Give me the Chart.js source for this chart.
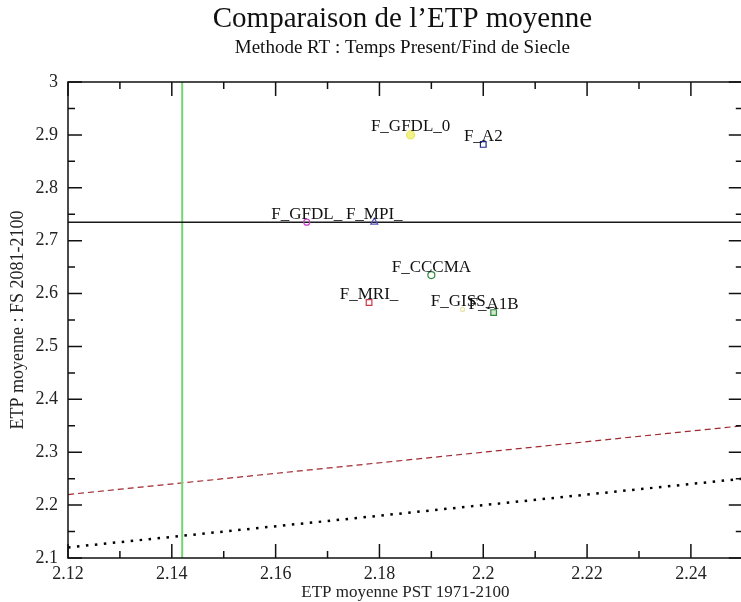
<!DOCTYPE html>
<html>
<head>
<meta charset="utf-8">
<script src="https://cdn.jsdelivr.net/npm/chart.js@4.4.0/dist/chart.umd.min.js"></script>
<style>
  html, body { margin: 0; padding: 0; overflow: hidden; background: #fff; }
</style>
</head>
<body>
<canvas id="etpChart" width="748" height="602"></canvas>
<script>
// modeles et ETP moyenne (PST 1971-2100 / FS 2081-2100)
const modelNames = ['F_GFDL_0', 'F_A2', 'F_GFDL_', 'F_MPI_', 'F_CCCMA', 'F_MRI_', 'F_GISS_', 'F_A1B'];
const etpPresent = [2.186, 2.200, 2.166, 2.179, 2.190, 2.178, 2.196, 2.202];
const etpFuture  = [2.900, 2.882, 2.735, 2.735, 2.635, 2.583, 2.570, 2.564];

// lignes de reference
const meanPresent = 2.142;
const meanFuture = 2.735;
const refX = [2.12, 2.25];
const refIdentity = [2.12, 2.25];   // y = x
const refPlus = [2.22, 2.35];       // y = x + 0.1

const xTickValues = [2.12, 2.14, 2.16, 2.18, 2.2, 2.22, 2.24];
const yTickValues = [2.1, 2.2, 2.3, 2.4, 2.5, 2.6, 2.7, 2.8, 2.9, 3];

const markerStyle = [
  { shape: 'circle',   color: '#e8e860', fill: '#f2f28a', r: 4 },
  { shape: 'rect',     color: '#1f2a88', fill: 'rgba(0,0,0,0)', r: 4 },
  { shape: 'circle',   color: '#cc44cc', fill: 'rgba(0,0,0,0)', r: 3 },
  { shape: 'triangle', color: '#5050b8', fill: 'rgba(0,0,0,0)', r: 4 },
  { shape: 'circle',   color: '#2f8a3a', fill: 'rgba(0,0,0,0)', r: 3.5 },
  { shape: 'rect',     color: '#c83a4a', fill: 'rgba(0,0,0,0)', r: 4 },
  { shape: 'circle',   color: '#e6e6a8', fill: 'rgba(0,0,0,0)', r: 2 },
  { shape: 'rect',     color: '#2f8a3a', fill: '#cfe8cf', r: 4 }
];

const SERIF = '"Liberation Serif", "DejaVu Serif", serif';

const pointSets = modelNames.map((name, i) => ({
  type: 'scatter',
  label: name,
  labelText: name,
  data: [{ x: etpPresent[i], y: etpFuture[i] }],
  pointStyle: markerStyle[i].shape,
  pointRadius: markerStyle[i].r,
  borderColor: markerStyle[i].color,
  backgroundColor: markerStyle[i].fill,
  pointBorderWidth: 1.2,
  order: 0
}));

const lineSets = [
  {
    label: 'y=x', type: 'line',
    data: refX.map((x, i) => ({ x: x, y: refIdentity[i] })),
    borderColor: '#000', borderWidth: 2.5, borderDash: [2.5, 6.5],
    pointRadius: 0, order: 5
  },
  {
    label: 'y=x+0.1', type: 'line',
    data: refX.map((x, i) => ({ x: x, y: refPlus[i] })),
    borderColor: '#a02a30', borderWidth: 1.2, borderDash: [6, 4],
    pointRadius: 0, order: 5
  },
  {
    label: 'moy FS', type: 'line',
    data: refX.map(x => ({ x: x, y: meanFuture })),
    borderColor: '#1a1a1a', borderWidth: 1.5,
    pointRadius: 0, order: 4
  },
  {
    label: 'moy PST', type: 'line',
    data: [{ x: meanPresent, y: 2.1 }, { x: meanPresent, y: 3 }],
    borderColor: '#6fd86f', borderWidth: 2,
    pointRadius: 0, order: 4
  }
];

// etiquettes des points
const pointLabels = {
  id: 'pointLabels',
  afterDatasetsDraw(chart) {
    const ctx = chart.ctx;
    ctx.save();
    ctx.font = '17px ' + SERIF;
    ctx.fillStyle = '#111';
    ctx.textAlign = 'center';
    ctx.textBaseline = 'middle';
    chart.data.datasets.forEach((ds, i) => {
      if (!ds.labelText) return;
      const pt = chart.getDatasetMeta(i).data[0];
      ctx.fillText(ds.labelText, pt.x, pt.y - 8);
    });
    ctx.restore();
  }
};

// cadre + graduations interieures sur les 4 cotes
const frameTicks = {
  id: 'frameTicks',
  afterDraw(chart) {
    const { ctx, chartArea: a, scales: { x, y } } = chart;
    ctx.save();
    ctx.strokeStyle = '#111';
    ctx.lineWidth = 1.5;
    ctx.strokeRect(a.left, a.top, a.right - a.left, a.bottom - a.top);

    const major = 14, minor = 7;
    const xv = x.ticks.map(t => t.value);
    const yv = y.ticks.map(t => t.value);
    const xMinor = [], yMinor = [];
    for (let i = 0; i < xv.length; i++) {
      const step = (xv[1] - xv[0]);
      const m = xv[i] + step / 2;
      if (m <= x.max + 1e-9) xMinor.push(m);
    }
    for (let i = 0; i < yv.length - 1; i++) yMinor.push((yv[i] + yv[i + 1]) / 2);

    ctx.beginPath();
    const vTick = (v, len) => {
      const px = x.getPixelForValue(v);
      ctx.moveTo(px, a.bottom); ctx.lineTo(px, a.bottom - len);
      ctx.moveTo(px, a.top); ctx.lineTo(px, a.top + len);
    };
    const hTick = (v, len) => {
      const py = y.getPixelForValue(v);
      ctx.moveTo(a.left, py); ctx.lineTo(a.left + len, py);
      ctx.moveTo(a.right, py); ctx.lineTo(a.right - len, py);
    };
    xv.forEach(v => vTick(v, major));
    xMinor.forEach(v => vTick(v, minor));
    yv.forEach(v => hTick(v, major));
    yMinor.forEach(v => hTick(v, minor));
    ctx.stroke();
    ctx.restore();
  }
};

// titre et sous-titre centres sur la zone de trace
const titles = {
  id: 'titles',
  afterDraw(chart) {
    const { ctx, chartArea: a } = chart;
    const cx = (a.left + a.right) / 2 - 3;
    ctx.save();
    ctx.fillStyle = '#111';
    ctx.textAlign = 'center';
    ctx.textBaseline = 'middle';
    ctx.font = '29px ' + SERIF;
    ctx.fillText('Comparaison de l\u2019ETP moyenne', cx, 19);
    ctx.font = '19px ' + SERIF;
    ctx.fillText('Methode RT : Temps Present/Find de Siecle', cx, 48);
    ctx.restore();
  }
};

new Chart(document.getElementById('etpChart').getContext('2d'), {
  type: 'scatter',
  data: { datasets: [...pointSets, ...lineSets] },
  options: {
    responsive: false,
    animation: false,
    layout: { padding: { top: 82, right: 1, left: 0, bottom: 0 } },
    plugins: {
      legend: { display: false },
      tooltip: { enabled: false },
      title: { display: false }
    },
    scales: {
      x: {
        type: 'linear',
        min: 2.12,
        max: 2.25,
        afterBuildTicks: s => { s.ticks = xTickValues.map(v => ({ value: v })); },
        afterFit: s => { s.height = 44; },
        grid: { display: false },
        border: { display: false },
        ticks: {
          padding: -3,
          maxRotation: 0,
          autoSkip: false,
          color: '#222',
          font: { family: SERIF, size: 18 },
          callback: v => String(Math.round(v * 100) / 100)
        },
        title: {
          display: true,
          text: 'ETP moyenne PST 1971-2100',
          color: '#222',
          font: { family: SERIF, size: 17, lineHeight: 1.1 },
          padding: { top: 0, bottom: 0 }
        }
      },
      y: {
        type: 'linear',
        min: 2.1,
        max: 3,
        afterBuildTicks: s => { s.ticks = yTickValues.map(v => ({ value: v })); },
        afterFit: s => { s.width = 68; },
        grid: { display: false },
        border: { display: false },
        ticks: {
          padding: 2,
          autoSkip: false,
          color: '#222',
          font: { family: SERIF, size: 18 },
          callback: v => String(Math.round(v * 10) / 10)
        },
        title: {
          display: true,
          text: 'ETP moyenne : FS 2081-2100',
          color: '#222',
          font: { family: SERIF, size: 18, lineHeight: 1.1 },
          padding: { top: 8, bottom: 0 }
        }
      }
    }
  },
  plugins: [pointLabels, frameTicks, titles]
});
</script>
</body>
</html>
